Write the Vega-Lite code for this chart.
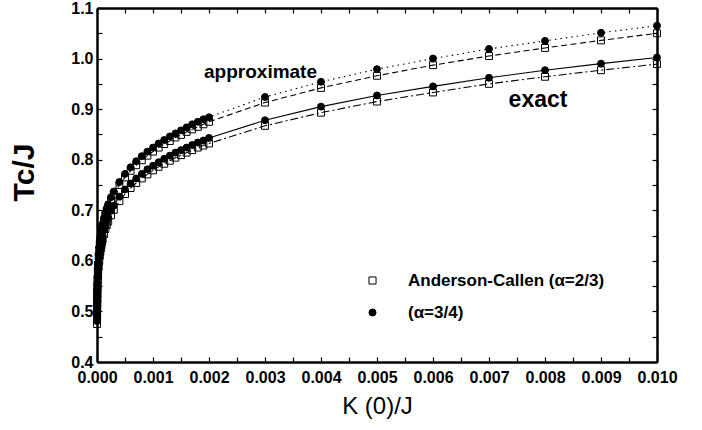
{
 "$schema": "https://vega.github.io/schema/vega-lite/v6.json",
 "width": 560,
 "height": 354,
 "autosize": {"type": "none"},
 "padding": {"left": 97, "top": 8, "right": 45, "bottom": 68},
 "config": {
  "font": "Liberation Sans",
  "view": {"stroke": null},
  "axis": {"grid": false, "domainColor": "black", "domainWidth": 2.5, "tickColor": "black", "tickWidth": 1.2, "tickSize": -5, "labelFont": "Liberation Sans", "labelFontSize": 16, "labelFontWeight": "bold", "labelColor": "black", "labelOverlap": false, "labelFlush": false, "titleColor": "black", "titleFont": "Liberation Sans"}
 },
 "data": {"values": [
  {"k": 0.000001, "a34": 0.492, "a23": 0.489, "e34": 0.481, "e23": 0.475},
  {"k": 0.0000015, "a34": 0.503, "a23": 0.501, "e34": 0.492, "e23": 0.486},
  {"k": 0.000002, "a34": 0.512, "a23": 0.510, "e34": 0.500, "e23": 0.495},
  {"k": 0.000003, "a34": 0.525, "a23": 0.523, "e34": 0.512, "e23": 0.507},
  {"k": 0.000004, "a34": 0.535, "a23": 0.532, "e34": 0.521, "e23": 0.516},
  {"k": 0.000005, "a34": 0.543, "a23": 0.540, "e34": 0.529, "e23": 0.523},
  {"k": 0.000007, "a34": 0.555, "a23": 0.552, "e34": 0.540, "e23": 0.534},
  {"k": 0.00001, "a34": 0.568, "a23": 0.565, "e34": 0.552, "e23": 0.546},
  {"k": 0.000015, "a34": 0.584, "a23": 0.580, "e34": 0.567, "e23": 0.561},
  {"k": 0.00002, "a34": 0.596, "a23": 0.592, "e34": 0.578, "e23": 0.572},
  {"k": 0.00003, "a34": 0.614, "a23": 0.609, "e34": 0.595, "e23": 0.588},
  {"k": 0.00004, "a34": 0.627, "a23": 0.622, "e34": 0.607, "e23": 0.600},
  {"k": 0.00005, "a34": 0.637, "a23": 0.633, "e34": 0.617, "e23": 0.610},
  {"k": 0.00006, "a34": 0.646, "a23": 0.642, "e34": 0.625, "e23": 0.618},
  {"k": 0.00007, "a34": 0.654, "a23": 0.649, "e34": 0.632, "e23": 0.625},
  {"k": 0.00008, "a34": 0.661, "a23": 0.656, "e34": 0.639, "e23": 0.631},
  {"k": 0.00009, "a34": 0.667, "a23": 0.662, "e34": 0.644, "e23": 0.637},
  {"k": 0.0001, "a34": 0.673, "a23": 0.668, "e34": 0.650, "e23": 0.642},
  {"k": 0.000125, "a34": 0.685, "a23": 0.679, "e34": 0.661, "e23": 0.653},
  {"k": 0.00015, "a34": 0.695, "a23": 0.690, "e34": 0.670, "e23": 0.663},
  {"k": 0.000175, "a34": 0.704, "a23": 0.698, "e34": 0.679, "e23": 0.671},
  {"k": 0.0002, "a34": 0.712, "a23": 0.706, "e34": 0.686, "e23": 0.678},
  {"k": 0.00025, "a34": 0.726, "a23": 0.720, "e34": 0.699, "e23": 0.690},
  {"k": 0.0003, "a34": 0.737, "a23": 0.731, "e34": 0.709, "e23": 0.701},
  {"k": 0.0004, "a34": 0.756, "a23": 0.750, "e34": 0.727, "e23": 0.718},
  {"k": 0.0005, "a34": 0.772, "a23": 0.765, "e34": 0.741, "e23": 0.732},
  {"k": 0.0006, "a34": 0.785, "a23": 0.778, "e34": 0.753, "e23": 0.744},
  {"k": 0.0007, "a34": 0.797, "a23": 0.789, "e34": 0.763, "e23": 0.754},
  {"k": 0.0008, "a34": 0.807, "a23": 0.799, "e34": 0.772, "e23": 0.763},
  {"k": 0.0009, "a34": 0.816, "a23": 0.808, "e34": 0.781, "e23": 0.771},
  {"k": 0.001, "a34": 0.824, "a23": 0.816, "e34": 0.788, "e23": 0.779},
  {"k": 0.0011, "a34": 0.832, "a23": 0.824, "e34": 0.795, "e23": 0.786},
  {"k": 0.0012, "a34": 0.839, "a23": 0.831, "e34": 0.802, "e23": 0.792},
  {"k": 0.0013, "a34": 0.846, "a23": 0.837, "e34": 0.808, "e23": 0.798},
  {"k": 0.0014, "a34": 0.852, "a23": 0.844, "e34": 0.814, "e23": 0.804},
  {"k": 0.0015, "a34": 0.858, "a23": 0.849, "e34": 0.819, "e23": 0.809},
  {"k": 0.0016, "a34": 0.864, "a23": 0.855, "e34": 0.824, "e23": 0.814},
  {"k": 0.0017, "a34": 0.870, "a23": 0.860, "e34": 0.829, "e23": 0.819},
  {"k": 0.0018, "a34": 0.875, "a23": 0.865, "e34": 0.834, "e23": 0.824},
  {"k": 0.0019, "a34": 0.880, "a23": 0.870, "e34": 0.838, "e23": 0.828},
  {"k": 0.002, "a34": 0.884, "a23": 0.875, "e34": 0.843, "e23": 0.832},
  {"k": 0.003, "a34": 0.924, "a23": 0.913, "e34": 0.878, "e23": 0.867},
  {"k": 0.004, "a34": 0.954, "a23": 0.942, "e34": 0.905, "e23": 0.893},
  {"k": 0.005, "a34": 0.979, "a23": 0.966, "e34": 0.927, "e23": 0.915},
  {"k": 0.006, "a34": 1.000, "a23": 0.987, "e34": 0.945, "e23": 0.933},
  {"k": 0.007, "a34": 1.019, "a23": 1.005, "e34": 0.962, "e23": 0.950},
  {"k": 0.008, "a34": 1.035, "a23": 1.021, "e34": 0.977, "e23": 0.964},
  {"k": 0.009, "a34": 1.051, "a23": 1.036, "e34": 0.990, "e23": 0.977},
  {"k": 0.01, "a34": 1.065, "a23": 1.050, "e34": 1.002, "e23": 0.989}
 ]},
 "transform": [{"fold": ["a34", "a23", "e34", "e23"], "as": ["s", "tc"]}],
 "layer": [
  {
   "encoding": {
    "x": {"field": "k", "type": "quantitative", "scale": {"domain": [0, 0.01]},
     "axis": {"title": "K (0)/J", "titleFontSize": 24, "titleFontWeight": "normal", "titlePadding": 9, "labelPadding": 12,
      "values": [0, 0.0005, 0.001, 0.0015, 0.002, 0.0025, 0.003, 0.0035, 0.004, 0.0045, 0.005, 0.0055, 0.006, 0.0065, 0.007, 0.0075, 0.008, 0.0085, 0.009, 0.0095, 0.01],
      "labelExpr": "round(datum.value*10000)%10==0 ? format(datum.value,'.3f') : ''"}},
    "y": {"field": "tc", "type": "quantitative", "scale": {"domain": [0.4, 1.1]},
     "axis": {"title": "Tc/J", "titleFontSize": 30, "titleFontWeight": "bold", "titlePadding": 31, "titleY": 164, "labelPadding": 9,
      "values": [0.4, 0.45, 0.5, 0.55, 0.6, 0.65, 0.7, 0.75, 0.8, 0.85, 0.9, 0.95, 1.0, 1.05, 1.1],
      "labelExpr": "round(datum.value*100)%10==0 ? format(datum.value,'.1f') : ''"}}
   },
   "layer": [
    {"transform": [{"filter": "datum.s=='a34'"}], "mark": {"type": "line", "color": "black", "strokeWidth": 1.1, "strokeDash": [1.5, 4]}},
    {"transform": [{"filter": "datum.s=='a23'"}], "mark": {"type": "line", "color": "black", "strokeWidth": 1.1, "strokeDash": [6, 3.5]}},
    {"transform": [{"filter": "datum.s=='e34'"}], "mark": {"type": "line", "color": "black", "strokeWidth": 1.1}},
    {"transform": [{"filter": "datum.s=='e23'"}], "mark": {"type": "line", "color": "black", "strokeWidth": 1.1, "strokeDash": [8, 3, 2, 3]}},
    {"mark": {"type": "point", "size": 48, "strokeWidth": 1, "opacity": 1, "filled": true},
     "encoding": {
      "shape": {"field": "s", "type": "nominal", "scale": {"domain": ["a34", "a23", "e34", "e23"], "range": ["circle", "square", "circle", "square"]},
       "legend": {"values": ["a23", "a34"], "labelExpr": "datum.value=='a23' ? 'Anderson-Callen (α=2/3)' : '(α=3/4)'", "title": null, "orient": "none", "legendX": 267, "legendY": 264, "symbolSize": 50, "symbolStrokeWidth": 1, "labelFontSize": 17, "labelFontWeight": "bold", "labelFont": "Liberation Sans", "labelColor": "black", "labelLimit": 0, "labelOffset": 27, "rowPadding": 14, "padding": 0}},
      "fill": {"field": "s", "type": "nominal", "scale": {"domain": ["a34", "a23", "e34", "e23"], "range": ["black", "transparent", "black", "transparent"]},
       "legend": {"values": ["a23", "a34"], "labelExpr": "datum.value=='a23' ? 'Anderson-Callen (α=2/3)' : '(α=3/4)'", "title": null, "orient": "none", "legendX": 267, "legendY": 264, "symbolSize": 50, "symbolStrokeWidth": 1, "labelFontSize": 17, "labelFontWeight": "bold", "labelFont": "Liberation Sans", "labelColor": "black", "labelLimit": 0, "labelOffset": 27, "rowPadding": 14, "padding": 0}},
      "stroke": {"field": "s", "type": "nominal", "scale": {"domain": ["a34", "a23", "e34", "e23"], "range": ["black", "black", "black", "black"]},
       "legend": {"values": ["a23", "a34"], "labelExpr": "datum.value=='a23' ? 'Anderson-Callen (α=2/3)' : '(α=3/4)'", "title": null, "orient": "none", "legendX": 267, "legendY": 264, "symbolSize": 50, "symbolStrokeWidth": 1, "labelFontSize": 17, "labelFontWeight": "bold", "labelFont": "Liberation Sans", "labelColor": "black", "labelLimit": 0, "labelOffset": 27, "rowPadding": 14, "padding": 0}}
     }},
    {"data": {"values": [{"k": 0.00292, "tc": 0.961, "label": "approximate"}]},
     "mark": {"type": "text", "fontSize": 19, "fontWeight": "bold", "align": "center", "baseline": "alphabetic", "color": "black", "font": "Liberation Sans"},
     "encoding": {"text": {"field": "label"}}},
    {"data": {"values": [{"k": 0.007875, "tc": 0.904, "label": "exact"}]},
     "mark": {"type": "text", "fontSize": 23, "fontWeight": "bold", "align": "center", "baseline": "alphabetic", "color": "black", "font": "Liberation Sans"},
     "encoding": {"text": {"field": "label"}}}
   ]
  },
  {
   "mark": {"type": "point", "opacity": 0},
   "encoding": {
    "x": {"field": "k", "type": "quantitative", "scale": {"domain": [0, 0.01]},
     "axis": {"orient": "top", "labels": false, "title": null,
      "values": [0, 0.0005, 0.001, 0.0015, 0.002, 0.0025, 0.003, 0.0035, 0.004, 0.0045, 0.005, 0.0055, 0.006, 0.0065, 0.007, 0.0075, 0.008, 0.0085, 0.009, 0.0095, 0.01]}},
    "y": {"field": "tc", "type": "quantitative", "scale": {"domain": [0.4, 1.1]},
     "axis": {"orient": "right", "labels": false, "title": null,
      "values": [0.4, 0.45, 0.5, 0.55, 0.6, 0.65, 0.7, 0.75, 0.8, 0.85, 0.9, 0.95, 1.0, 1.05, 1.1]}}
   }
  }
 ],
 "resolve": {"axis": {"x": "independent", "y": "independent"}}
}
